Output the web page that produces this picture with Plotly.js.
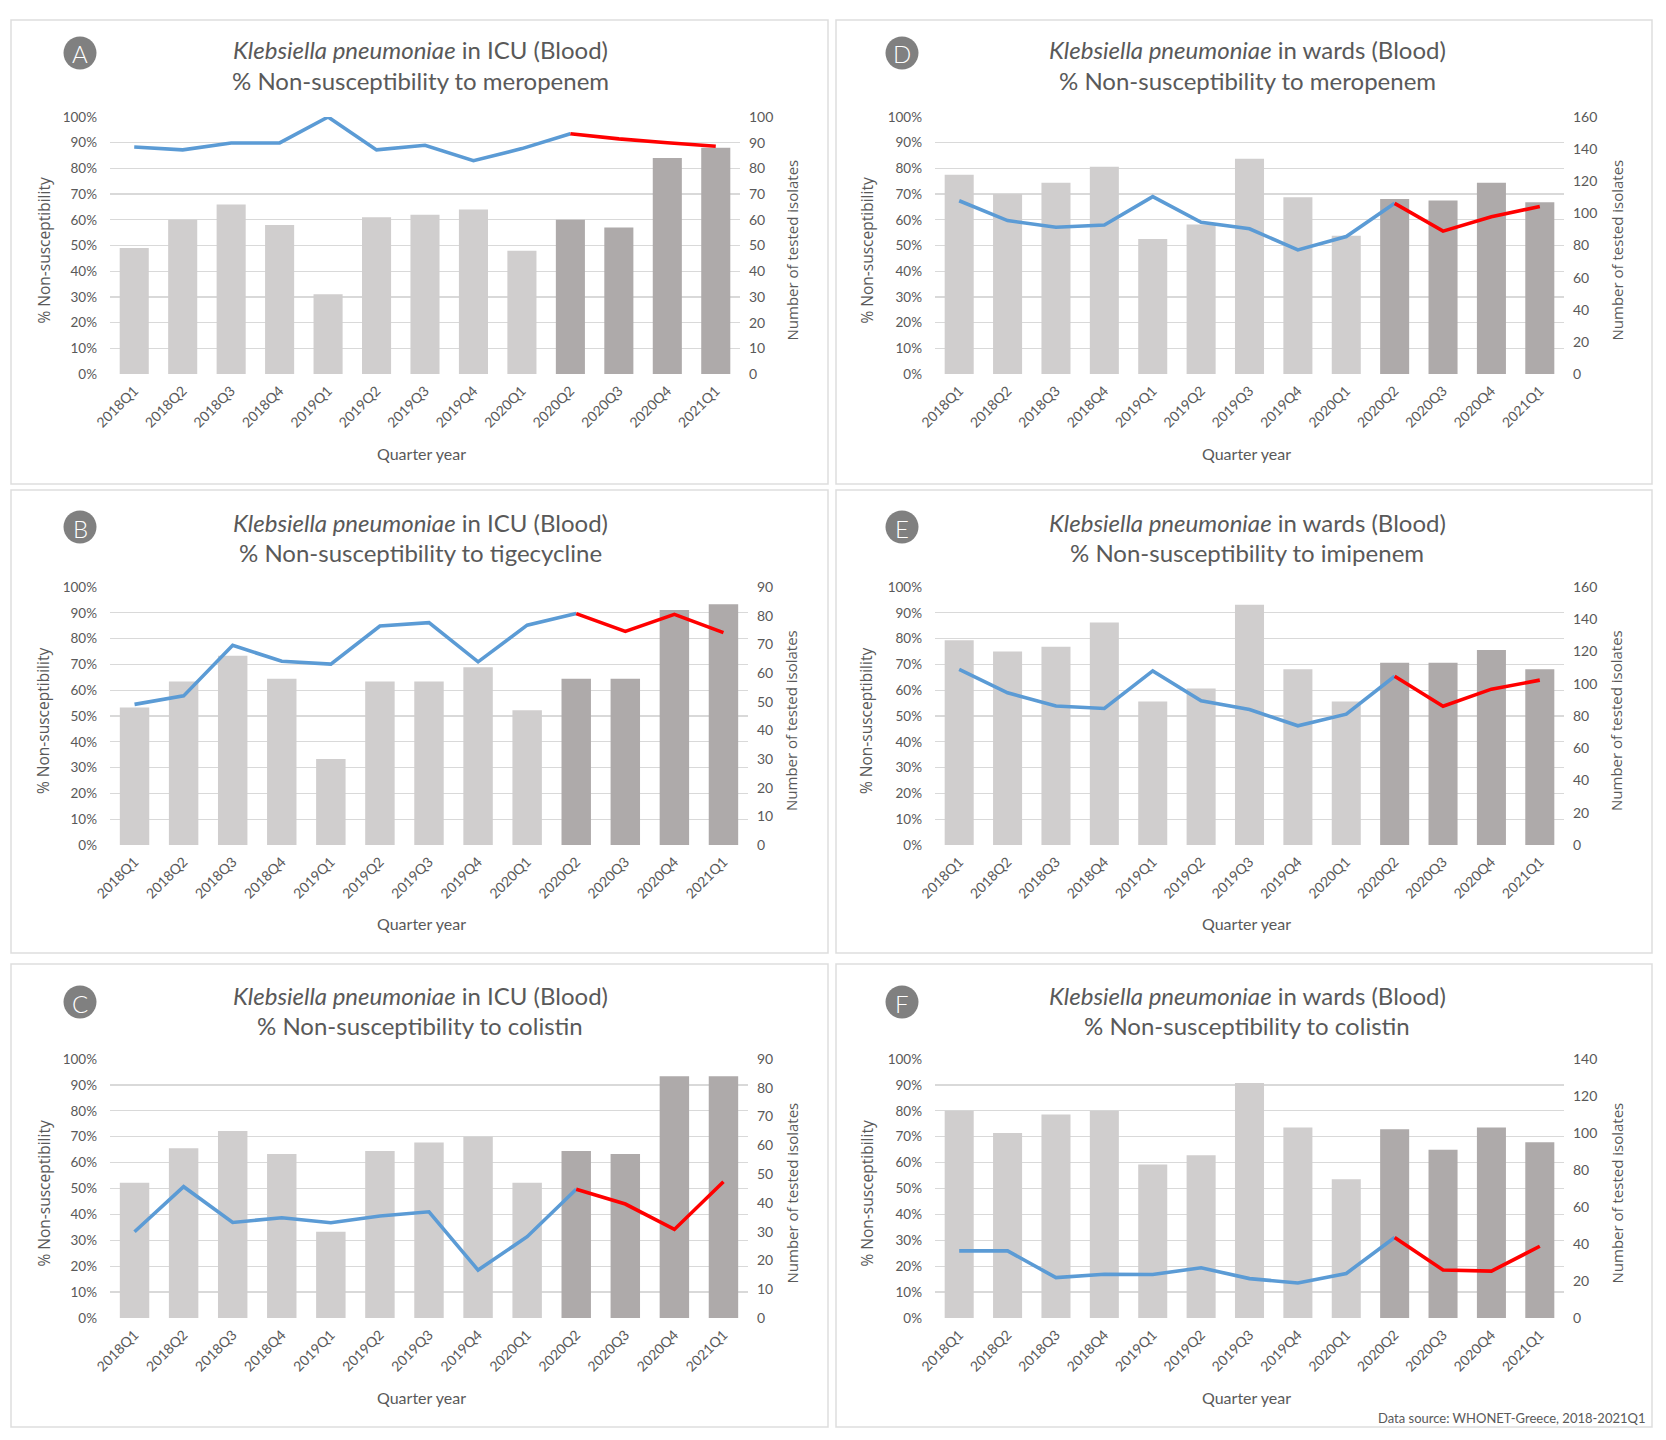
<!DOCTYPE html>
<html><head><meta charset="utf-8">
<script src="https://cdn.plot.ly/plotly-3.0.1.min.js"></script>
<style>body{margin:0;background:#fff}#chart{width:1666px;height:1440px}</style>
</head><body><div id="chart"></div>
<script>
// ---------- data ----------
const quarters = ['2018Q1','2018Q2','2018Q3','2018Q4','2019Q1','2019Q2','2019Q3','2019Q4','2020Q1','2020Q2','2020Q3','2020Q4','2021Q1'];

// A: ICU, meropenem
const aPct = [88.3, 87.2, 89.9, 89.9, 100, 87.2, 89.0, 83.0, 87.7, 93.5, 91.5, 90.0, 88.6];
const aN   = [49, 60, 66, 58, 31, 61, 62, 64, 48, 60, 57, 84, 88];
// B: ICU, tigecycline
const bPct = [54.5, 57.8, 77.4, 71.2, 70.1, 84.9, 86.2, 71.0, 85.2, 89.7, 82.8, 89.4, 82.3];
const bN   = [48, 57, 66, 58, 30, 57, 57, 62, 47, 58, 58, 82, 84];
// C: ICU, colistin
const cPct = [33.3, 50.7, 36.9, 38.7, 36.8, 39.4, 41.0, 18.5, 31.4, 49.7, 44.0, 34.2, 52.6];
const cN   = [47, 59, 65, 57, 30, 58, 61, 63, 47, 58, 57, 84, 84];
// D: wards, meropenem
const dPct = [67.4, 59.7, 57.1, 58.0, 69.0, 59.0, 56.5, 48.3, 53.5, 66.4, 55.6, 61.2, 65.2];
const dN   = [124, 112, 119, 129, 84, 93, 134, 110, 86, 109, 108, 119, 107];
// E: wards, imipenem
const ePct = [68.1, 59.0, 53.9, 52.9, 67.5, 55.9, 52.5, 46.2, 50.7, 65.4, 53.8, 60.4, 63.9];
const eN   = [127, 120, 123, 138, 89, 97, 149, 109, 89, 113, 113, 121, 109];
// F: wards, colistin
const fPct = [25.9, 25.9, 15.6, 16.9, 16.8, 19.4, 15.2, 13.5, 17.2, 31.1, 18.5, 18.1, 27.7];
const fN   = [112, 100, 110, 112, 83, 88, 127, 103, 75, 102, 91, 103, 95];

const pctTicks = [0,10,20,30,40,50,60,70,80,90,100];
const pctTickText = pctTicks.map(v => v + '%');
const lastBlueIndex = 9;   // 2020Q2: blue line ends, red line begins

// ---------- layout helpers ----------
const W = 1666, H = 1440;
const px = x => x / W, py = y => 1 - y / H;

const panels = [
  {letter:'A', setting:'ICU',   drug:'meropenem',   pct:aPct, n:aN, nMax:100, nStep:10, col:0, row:0},
  {letter:'D', setting:'wards', drug:'meropenem',   pct:dPct, n:dN, nMax:160, nStep:20, col:1, row:0},
  {letter:'B', setting:'ICU',   drug:'tigecycline', pct:bPct, n:bN, nMax:90,  nStep:10, col:0, row:1},
  {letter:'E', setting:'wards', drug:'imipenem',    pct:ePct, n:eN, nMax:160, nStep:20, col:1, row:1},
  {letter:'C', setting:'ICU',   drug:'colistin',    pct:cPct, n:cN, nMax:90,  nStep:10, col:0, row:2},
  {letter:'F', setting:'wards', drug:'colistin',    pct:fPct, n:fN, nMax:140, nStep:20, col:1, row:2}
];

// plot-area x extents per panel (left column row A is slightly narrower)
const plotX = {A:[110,740], B:[110,748], C:[110,748], D:[935,1564], E:[935,1564], F:[935,1564]};
const rowY = [[117,374],[587,845],[1059,1318]];
const boxX = [[11,828],[836,1652]];
const boxY = [[20,484],[490,953],[964,1427]];
const title1Y = [50, 522, 995];
const titleX = [420, 1247];
const qyX = [421, 1246];
const circleX = [80, 902];
const circleY = [53, 527, 1002];
const qyY = [453, 923, 1397];
const leftTitleX = [43, 866];
const rightTitleX = [791, 1616];

const textCol = '#595959';
const tickFont = {family:'Lato, sans-serif', size:14, color:textCol};
const yTickFont = {family:'Lato, sans-serif', size:13.5, color:textCol};
const lightBar = '#D0CECE', darkBar = '#AEAAAA';

const data = [];
const layout = {
  width: W, height: H,
  margin: {l:0, r:0, t:0, b:0},
  paper_bgcolor: '#ffffff', plot_bgcolor: 'rgba(0,0,0,0)',
  showlegend: false,
  bargap: 0.4,
  shapes: [], annotations: []
};

panels.forEach((p, i) => {
  const k = i + 1;
  const xa = 'x' + k;
  const yN = 'y' + (2*k - 1);   // count axis (main, right side)
  const yP = 'y' + (2*k);       // percent axis (overlay, left side)
  const pxr = plotX[p.letter];
  const xd = [px(pxr[0]), px(pxr[1])];
  const yd = [py(rowY[p.row][1]), py(rowY[p.row][0])];

  layout['xaxis' + k] = {
    domain: xd, anchor: yN, type: 'category',
    range: [-0.5, quarters.length - 0.5],
    tickangle: -45, tickfont: tickFont, ticklabelstandoff: 5,
    showgrid: false, zeroline: false, showline: false, ticks: '',
    fixedrange: true
  };
  const nTicks = [];
  for (let v = 0; v <= p.nMax; v += p.nStep) nTicks.push(v);
  layout['yaxis' + (2*k - 1)] = {
    domain: yd, anchor: xa, side: 'right',
    range: [0, p.nMax], tickmode: 'array', tickvals: nTicks,
    tickfont: tickFont, showgrid: false, zeroline: false, showline: false,
    ticks: '', ticklabelstandoff: 8, fixedrange: true
  };
  layout['yaxis' + (2*k)] = {
    overlaying: yN, anchor: xa, side: 'left',
    range: [0, 100], tickmode: 'array', tickvals: pctTicks, ticktext: pctTickText,
    tickfont: yTickFont, showgrid: true, gridcolor: '#D9D9D9', gridwidth: 1.3,
    zeroline: false, showline: false, ticks: '', ticklabelstandoff: 12,
    fixedrange: true
  };

  data.push({
    type: 'bar', x: quarters, y: p.n, xaxis: xa, yaxis: yN,
    marker: {color: quarters.map((q, j) => j < lastBlueIndex ? lightBar : darkBar)},
    hoverinfo: 'x+y'
  });
  data.push({
    type: 'scatter', mode: 'lines',
    x: quarters.slice(0, lastBlueIndex + 1), y: p.pct.slice(0, lastBlueIndex + 1),
    xaxis: xa, yaxis: yP, line: {color: '#5B9BD5', width: 3.6}
  });
  data.push({
    type: 'scatter', mode: 'lines',
    x: quarters.slice(lastBlueIndex), y: p.pct.slice(lastBlueIndex),
    xaxis: xa, yaxis: yP, line: {color: '#FF0000', width: 3.6}
  });

  // panel frame
  layout.shapes.push({
    type: 'rect', xref: 'paper', yref: 'paper', layer: 'below',
    x0: px(boxX[p.col][0]), x1: px(boxX[p.col][1]),
    y0: py(boxY[p.row][1]), y1: py(boxY[p.row][0]),
    line: {color: '#DEDEDE', width: 1.5}, fillcolor: 'rgba(0,0,0,0)'
  });
  // letter circle
  const cx = circleX[p.col], cy = circleY[p.row], r = 16.5;
  layout.shapes.push({
    type: 'circle', xref: 'paper', yref: 'paper',
    x0: px(cx - r), x1: px(cx + r), y0: py(cy + r), y1: py(cy - r),
    fillcolor: '#808080', line: {width: 0}
  });
  layout.annotations.push({
    xref: 'paper', yref: 'paper', x: px(cx), y: py(cy + 1),
    text: p.letter, showarrow: false, xanchor: 'center', yanchor: 'middle',
    font: {family: 'Lato, sans-serif', size: 24, weight: 300, color: '#ffffff'}
  });

  const titleFont = {family: 'Lato, sans-serif', size: 24, color: textCol};
  layout.annotations.push({
    xref: 'paper', yref: 'paper', x: px(titleX[p.col]), y: py(title1Y[p.row]),
    text: '<i>Klebsiella pneumoniae</i> in ' + p.setting + ' (Blood)',
    showarrow: false, xanchor: 'center', yanchor: 'middle', font: titleFont
  });
  layout.annotations.push({
    xref: 'paper', yref: 'paper', x: px(titleX[p.col]), y: py(title1Y[p.row] + 30),
    text: '% Non-susceptibility to ' + p.drug,
    showarrow: false, xanchor: 'center', yanchor: 'middle', font: titleFont
  });
  // axis titles
  layout.annotations.push({
    xref: 'paper', yref: 'paper', x: px(qyX[p.col]), y: py(qyY[p.row]),
    text: 'Quarter year', showarrow: false, xanchor: 'center', yanchor: 'middle',
    font: {family: 'Lato, sans-serif', size: 16, color: textCol}
  });
  const midY = (rowY[p.row][0] + rowY[p.row][1]) / 2 + 5;
  layout.annotations.push({
    xref: 'paper', yref: 'paper', x: px(leftTitleX[p.col]), y: py(midY),
    text: '% Non-susceptibility', textangle: -90, showarrow: false,
    xanchor: 'center', yanchor: 'middle',
    font: {family: 'Open Sans, sans-serif', size: 15.5, color: textCol}
  });
  layout.annotations.push({
    xref: 'paper', yref: 'paper', x: px(rightTitleX[p.col]), y: py(midY),
    text: 'Number of tested isolates', textangle: -90, showarrow: false,
    xanchor: 'center', yanchor: 'middle',
    font: {family: 'Open Sans, sans-serif', size: 15, color: textCol}
  });
});

layout.annotations.push({
  xref: 'paper', yref: 'paper', x: px(1647), y: py(1418),
  text: 'Data source: WHONET-Greece, 2018-2021Q1', showarrow: false,
  xanchor: 'right', yanchor: 'middle',
  font: {family: 'Lato, sans-serif', size: 13, color: textCol}
});

Plotly.newPlot('chart', data, layout, {displayModeBar: false, staticPlot: true});
</script>
</body></html>
